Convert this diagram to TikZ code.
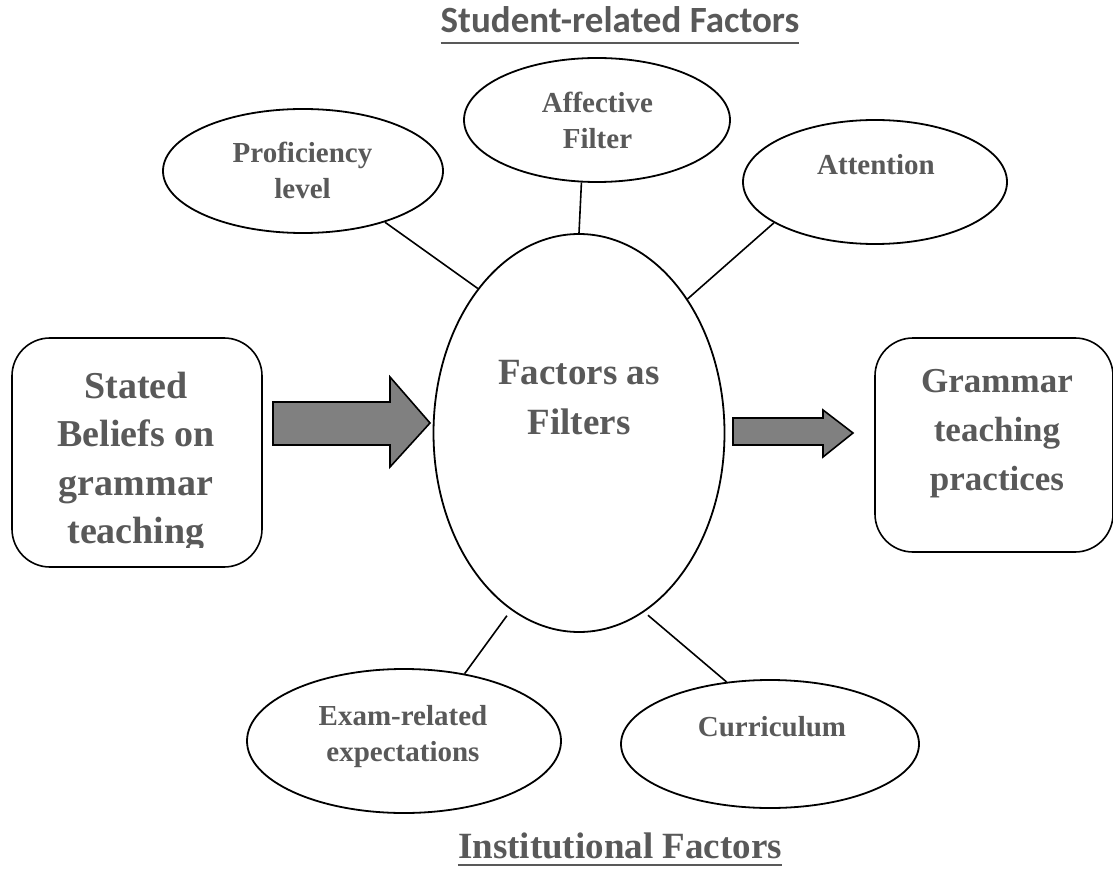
\documentclass[tikz,border=0pt]{standalone}
\usepackage{fontspec}
\setmainfont{Liberation Serif}
\newfontfamily\calibri{Carlito}
\usepackage{tikz}
\usetikzlibrary{shapes.geometric}

\definecolor{txtgray}{RGB}{89,89,89}
\definecolor{arrgray}{RGB}{128,128,128}

\tikzset{
  bubble/.style={draw,ellipse,line width=1.8pt,inner sep=0pt},
  roundbox/.style={draw,rectangle,rounded corners=38pt,line width=1.6pt,inner sep=0pt},
  bigtxt/.style={text=txtgray,font=\fontsize{35}{49}\selectfont\bfseries,align=center,inner sep=0pt},
  smalltxt/.style={text=txtgray,font=\fontsize{29}{36}\selectfont\bfseries,align=center,inner sep=0pt},
  headtxt/.style={text=txtgray,font=\fontsize{37}{44}\selectfont\bfseries,inner sep=0pt,anchor=base},
  uline/.style={draw=txtgray,line width=2.8pt},
  blockarrow/.style={draw,fill=arrgray,line width=1.6pt,line join=miter},
  link/.style={line width=1.6pt}
}

\begin{document}
\begin{tikzpicture}[x=1pt,y=-1pt]
\useasboundingbox (0,0) rectangle (1113,890);

% headings
\node[headtxt,font=\fontsize{37}{44}\selectfont\calibri\bfseries] (stud) at (620,33){Student-related Factors};
\node[headtxt] (inst) at (620,858){Institutional Factors};
\draw[uline] ([yshift=-10pt]stud.base west) -- ([yshift=-10pt]stud.base east);
\draw[uline,line width=2.4pt] ([yshift=-7pt]inst.base west) -- ([yshift=-7pt]inst.base east);

% beliefs -> filters -> practices
\node[roundbox,minimum width=250,minimum height=229] (beliefs) at (137,452.5){};
\begin{scope}
\clip (12,338) rectangle (262,547);
\node[bigtxt,font=\fontsize{38}{48.5}\selectfont\bfseries] (beliefst) at (136,462){Stated\\Beliefs on\\grammar\\teaching};
\end{scope}
\node[bubble,minimum width=291,minimum height=398] (filt) at (579,433){};
\node[bigtxt,font=\fontsize{37}{50}\selectfont\bfseries] (filtt) at (579,398){Factors as\\Filters};
\node[roundbox,minimum width=238,minimum height=214] (pract) at (994,445){};
\node[bigtxt] (practt) at (997,434){Grammar\\teaching\\practices};

\filldraw[blockarrow] (273,402) -- (390,402) -- (390,377) -- (430,423) -- (390,467) -- (390,445) -- (273,445) -- cycle;
\filldraw[blockarrow] (733,418) -- (823,418) -- (823,410) -- (853,433) -- (823,457) -- (823,445) -- (733,445) -- cycle;

% student-related factors
\node[bubble,minimum width=280,minimum height=124] (prof) at (303,171){};
\node[smalltxt] (proft) at (302.5,170){Proficiency\\level};
\node[bubble,minimum width=266,minimum height=124] (aff) at (597,120){};
\node[smalltxt] (afft) at (597.5,120.5){Affective\\Filter};
\node[bubble,minimum width=264,minimum height=124] (att) at (875,182){};
\node[smalltxt] (attt) at (876,165){Attention};

% institutional factors
\node[bubble,minimum width=314,minimum height=144] (exam) at (404,741){};
\node[smalltxt] (examt) at (403,736.5){Exam-related\\expectations};
\node[bubble,minimum width=298,minimum height=128] (curr) at (770,744){};
\node[smalltxt] (currt) at (772,727){Curriculum};

\draw[link] (prof.-32) -- (filt.125);
\draw[link] (aff.256) -- (filt.90);
\draw[link] (att.202) -- (filt.51);
\draw[link,shorten >=7pt] (exam.48) -- (filt.-111);
\draw[link,shorten >=5pt] (curr.125) -- (filt.-70);

\end{tikzpicture}
\end{document}
